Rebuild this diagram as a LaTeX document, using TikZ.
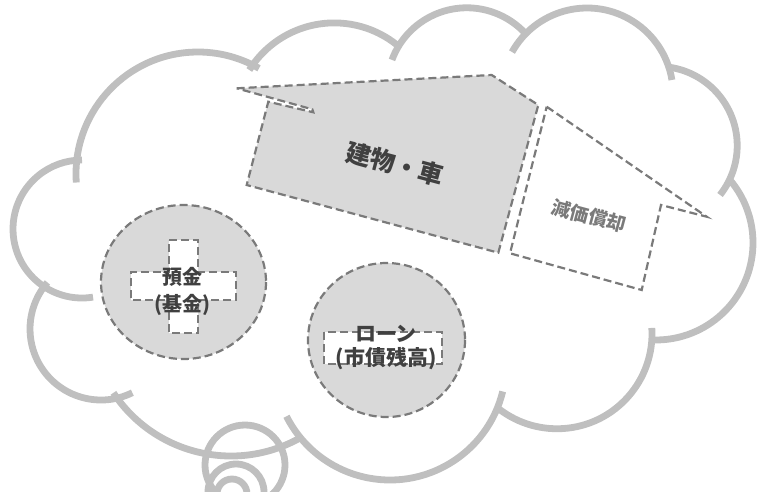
\documentclass[tikz,border=0pt]{standalone}
\usepackage{fontspec}
\newfontfamily\cjk{Noto Sans CJK JP}
\definecolor{cloudgray}{HTML}{BFBFBF}
\definecolor{dashgray}{HTML}{7A7A7A}
\definecolor{fillgray}{HTML}{D9D9D9}
\definecolor{textdark}{HTML}{404040}
\begin{document}
\begin{tikzpicture}[x=1pt,y=1pt,yscale=-1,
  cloud/.style={draw=cloudgray, line width=6.8pt},
  dashedge/.style={draw=dashgray, line width=2.2pt, dash pattern=on 8pt off 4pt},
  graybox/.style={dashedge, fill=fillgray},
  whitebox/.style={dashedge, fill=white},
  lbl/.style={font=\cjk\bfseries\fontsize{20}{27}\selectfont, text=textdark, align=center, inner sep=0pt},
]
\useasboundingbox (0,0) rectangle (766,491);

% cloud outline: one arc per bump
\draw[cloud] (82,229) ++(80.8:69pt) arc[start angle=80.8, end angle=270, radius=69pt];
\draw[cloud] (198,174) ++(176:122pt) arc[start angle=176, end angle=300, radius=122pt];
\draw[cloud] (334.3,123.1) ++(212:100.2pt) arc[start angle=212, end angle=310, radius=100.2pt];
\draw[cloud] (466.8,87.6) ++(200.3:79.8pt) arc[start angle=200.3, end angle=317, radius=79.8pt];
\draw[cloud] (587.1,94) ++(209.2:86pt) arc[start angle=209.2, end angle=350.6, radius=86pt];
\draw[cloud] (657.9,145.7) ++(278:79.3pt) arc[start angle=278, end angle=398.4, radius=79.3pt];
\draw[cloud] (655.8,242.8) ++(-40.2:97.2pt) arc[start angle=-40.2, end angle=91.6, radius=97.2pt];
\draw[cloud] (557,333.75) ++(-3.5:95pt) arc[start angle=-3.5, end angle=130, radius=95pt];
\draw[cloud] (390,364) ++(13.7:116pt) arc[start angle=13.7, end angle=153.2, radius=116pt];
\draw[cloud] (231,315) ++(60.5:141pt) arc[start angle=60.5, end angle=146.5, radius=141pt];
\draw[cloud] (101,329) ++(63.8:71pt) arc[start angle=63.8, end angle=221, radius=71pt];

% thought swirl
\draw[cloud] (245,465) circle[radius=40pt];
\draw[cloud] (236,492) ++(180:28pt) arc[start angle=180, end angle=360, radius=28pt];
\draw[cloud] (232,494) ++(180:15pt) arc[start angle=180, end angle=360, radius=15pt];

% building / car block
\draw[graybox] (236.7,88.3) -- (491.7,75) -- (538.3,105) -- (498.3,252.7) -- (246.7,185)
  -- (268.3,101.7) -- (313.3,112.3) -- (312.3,109.3) -- cycle;
% depreciation block
\draw[dashedge] (546.7,106.7) -- (706.7,216.7) -- (661,205) -- (641.7,290) -- (510,253.3) -- cycle;

% deposit circle with cross
\draw[graybox] (183.5,282) ellipse[x radius=82.5pt, y radius=77pt];
\draw[whitebox] (169,240) -- (198,240) -- (198,272) -- (236,272) -- (236,300) -- (198,300)
  -- (198,333) -- (169,333) -- (169,300) -- (131,300) -- (131,272) -- (169,272) -- cycle;

% loan circle with box
\draw[graybox] (386.5,340) ellipse[x radius=78.5pt, y radius=77pt];
\draw[whitebox] (324,332) rectangle (442,364);

% labels
\node[lbl, font=\cjk\bfseries\fontsize{25}{28}\selectfont, rotate=-15] (bldg) at (395,164) {建物・車};
\node[lbl, font=\cjk\bfseries\fontsize{19}{22}\selectfont, text=dashgray, rotate=-15] (depr) at (589,216) {減価償却};
\node[lbl] (yokin) at (182,291) {預金\\(基金)};
\node[lbl, font=\cjk\bfseries\fontsize{21}{24}\selectfont] (loan) at (386,347) {ローン\\(市債残高)};
\end{tikzpicture}
\end{document}
